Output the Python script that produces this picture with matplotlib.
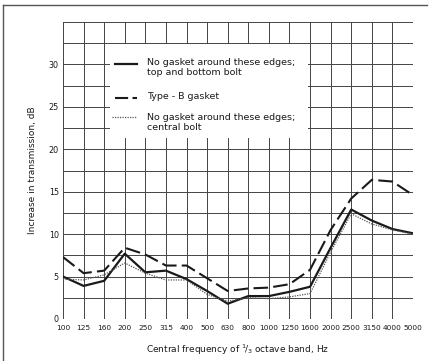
import matplotlib
matplotlib.use('Agg')
import matplotlib.pyplot as plt
from matplotlib.lines import Line2D
from matplotlib.patches import Rectangle

# third-octave band centres, Hz
freqs = ['100', '125', '160', '200', '250', '315', '400', '500', '630', '800',
         '1000', '1250', '1600', '2000', '2500', '3150', '4000', '5000']

# increase in transmission, dB
top_bottom_bolt = [5.0, 3.9, 4.5, 7.7, 5.5, 5.7, 4.7, 3.3, 1.8, 2.7,
                   2.7, 3.2, 3.8, 8.4, 12.9, 11.6, 10.6, 10.1]
type_b_gasket = [7.3, 5.4, 5.7, 8.4, 7.6, 6.3, 6.3, 4.8, 3.3, 3.6,
                 3.7, 4.1, 5.8, 10.5, 14.2, 16.4, 16.2, 14.6]
central_bolt = [4.7, 4.6, 5.2, 6.6, 5.4, 4.6, 4.6, 2.9, 2.1, 2.5,
                2.4, 2.6, 3.0, 7.9, 12.4, 11.2, 10.5, 10.0]

labels = ['No gasket around these edges;\ntop and bottom bolt',
          'Type - B gasket',
          'No gasket around these edges;\ncentral bolt']

ink = '#1a1a1a'
grid_col = '#444444'

W, H = 436, 361
fig = plt.figure(figsize=(W / 100, H / 100), dpi=100)
fig.patch.set_facecolor('white')
ax = fig.add_axes([63 / W, 1 - 319 / H, 350 / W, 297 / H])

x = list(range(len(freqs)))

# graph-paper grid, every band and every 2.5 dB
for xi in x:
    ax.axvline(xi, color=grid_col, lw=0.7, zorder=1)
for k in range(15):
    ax.axhline(k * 2.5, color=grid_col, lw=0.7, zorder=1)

# blank panel behind the key
ax.add_patch(Rectangle((2.28, 21.3), 9.6, 11.1, facecolor='white',
                       edgecolor='none', zorder=2))

dash = (7, 2.5)
ax.plot(x, top_bottom_bolt, color=ink, lw=1.6, zorder=4)
ax.plot(x, type_b_gasket, color=ink, lw=1.5, dashes=dash, zorder=4)
ax.plot(x, central_bolt, color='#555555', lw=0.9, ls=(0, (1, 1)), zorder=4)

# key: short samples, two dashes fit the dashed one
key_x = [2.53, 3.59]
ax.plot(key_x, [30.05, 30.05], color=ink, lw=1.6, zorder=5)
ax.plot(key_x, [26.05, 26.05], color=ink, lw=1.5, dashes=(6.3, 2.1), zorder=5)
ax.plot([2.38, 3.59], [23.8, 23.8], color='#555555', lw=0.9, ls=(0, (1, 1)), zorder=5)
ax.text(4.08, 29.6, labels[0], fontsize=6.8, va='center', ha='left',
        color=ink, linespacing=1.15, zorder=5)
ax.text(4.08, 26.2, labels[1], fontsize=6.8, va='center', ha='left',
        color=ink, zorder=5)
ax.text(4.08, 23.15, labels[2], fontsize=6.8, va='center', ha='left',
        color=ink, linespacing=1.15, zorder=5)

ax.set_xlim(0, len(freqs) - 1)
ax.set_ylim(0, 35)
ax.set_xticks(x)
ax.set_xticklabels(freqs, fontsize=5.3, color=ink)
ax.set_yticks([0, 5, 10, 15, 20, 25, 30])
ax.set_yticklabels(['0', '5', '10', '15', '20', '25', '30'], fontsize=5.8, color=ink)
ax.tick_params(length=0, pad=4)
ax.tick_params(axis='y', pad=3)
for s in ax.spines.values():
    s.set_visible(False)

ax.set_xlabel(r'Central frequency of $^{1}\!/_{3}$ octave band, Hz',
              fontsize=6.5, color=ink, labelpad=9)
ax.set_ylabel('Increase in transmission, dB', fontsize=6.5, color=ink, labelpad=8)

# page border
fig.add_artist(Line2D([3 / W, 427 / W], [1 - 5 / H, 1 - 5 / H], color='#555555', lw=1.0))
fig.add_artist(Line2D([3 / W, 3 / W], [1 - 5 / H, 0], color='#555555', lw=1.0))

fig.savefig('out.png', dpi=100, facecolor='white')
